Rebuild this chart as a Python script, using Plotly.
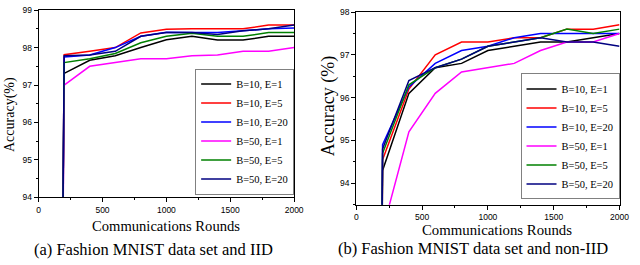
import plotly.graph_objects as go

rounds = [0, 200, 400, 600, 800, 1000, 1200, 1400, 1600, 1800, 2000]
names = ["B=10, E=1", "B=10, E=5", "B=10, E=20", "B=50, E=1", "B=50, E=5", "B=50, E=20"]
colors = ["#000000", "#ff0000", "#0000ff", "#ff00ff", "#008000", "#000080"]

# (a) IID
iid_b10_e1 = [10, 97.31, 97.66, 97.78, 98.0, 98.21, 98.3, 98.2, 98.2, 98.3, 98.3]
iid_b10_e5 = [10, 97.81, 97.9, 98.0, 98.39, 98.49, 98.5, 98.5, 98.5, 98.6, 98.6]
iid_b10_e20 = [10, 97.75, 97.8, 98.0, 98.3, 98.41, 98.4, 98.4, 98.45, 98.5, 98.52]
iid_b50_e1 = [10, 97.0, 97.5, 97.6, 97.7, 97.7, 97.78, 97.8, 97.9, 97.9, 98.0]
iid_b50_e5 = [10, 97.6, 97.7, 97.84, 98.13, 98.3, 98.38, 98.3, 98.3, 98.4, 98.4]
iid_b50_e20 = [10, 97.78, 97.8, 97.9, 98.3, 98.4, 98.4, 98.35, 98.45, 98.5, 98.6]

# (b) non-IID
non_b10_e1 = [10, 94.3, 96.1, 96.7, 96.8, 97.1, 97.2, 97.3, 97.3, 97.4, 97.5]
non_b10_e5 = [10, 94.55, 96.2, 97.0, 97.3, 97.3, 97.4, 97.4, 97.6, 97.6, 97.7]
non_b10_e20 = [10, 94.9, 96.25, 96.8, 97.1, 97.2, 97.4, 97.5, 97.5, 97.5, 97.5]
non_b50_e1 = [10, 92.9, 95.2, 96.1, 96.6, 96.7, 96.8, 97.1, 97.3, 97.3, 97.5]
non_b50_e5 = [10, 94.7, 96.3, 96.7, 96.9, 97.2, 97.3, 97.4, 97.6, 97.5, 97.6]
non_b50_e20 = [10, 94.8, 96.4, 96.7, 96.9, 97.2, 97.3, 97.4, 97.3, 97.3, 97.2]

iid = [iid_b10_e1, iid_b10_e5, iid_b10_e20, iid_b50_e1, iid_b50_e5, iid_b50_e20]
non = [non_b10_e1, non_b10_e5, non_b10_e20, non_b50_e1, non_b50_e5, non_b50_e20]

fig = go.Figure()
for n, c, ys in zip(names, colors, iid):
    fig.add_trace(go.Scatter(x=rounds, y=ys, mode="lines", name=n,
                             line=dict(color=c, width=1.5),
                             xaxis="x", yaxis="y", legend="legend"))
for n, c, ys in zip(names, colors, non):
    fig.add_trace(go.Scatter(x=rounds, y=ys, mode="lines", name=n,
                             line=dict(color=c, width=1.5),
                             xaxis="x2", yaxis="y2", legend="legend2"))

tickfont = dict(family="Liberation Sans, Arial", size=8.5, color="black")
axis_common = dict(showline=True, linecolor="black", linewidth=1, mirror=True,
                   ticks="outside", ticklen=4, tickcolor="black", showgrid=False,
                   zeroline=False, tickfont=tickfont)

fig.update_layout(
    width=640, height=265,
    margin=dict(l=0, r=0, t=0, b=0),
    paper_bgcolor="white", plot_bgcolor="white",
    xaxis=dict(domain=[0.0583, 0.4652], range=[0, 2000], dtick=500, anchor="y",
               minor=dict(ticks="outside", ticklen=2, dtick=250, tickcolor="black"),
               **axis_common),
    yaxis=dict(domain=[0.2453, 0.98], range=[94, 99], dtick=1, anchor="x",
               minor=dict(ticks="outside", ticklen=2, dtick=0.5, tickcolor="black"),
               **axis_common),
    xaxis2=dict(domain=[0.5641, 0.9833], range=[0, 2000], dtick=500, anchor="y2",
                minor=dict(ticks="outside", ticklen=2, dtick=250, tickcolor="black"),
                **axis_common),
    yaxis2=dict(domain=[0.2170, 0.9725], range=[93.5, 98], tick0=94, dtick=1, anchor="x2",
                minor=dict(ticks="outside", ticklen=2, tick0=94, dtick=0.5, tickcolor="black"),
                **axis_common),
    legend=dict(x=0.4652, xanchor="right", y=0.2566, yanchor="bottom",
                bgcolor="white", bordercolor="#808080", borderwidth=1,
                font=dict(family="Liberation Serif, Times New Roman", size=10.5, color="black"),
                itemwidth=30),
    legend2=dict(x=0.9833, xanchor="right", y=0.2377, yanchor="bottom",
                 bgcolor="white", bordercolor="#808080", borderwidth=1,
                 font=dict(family="Liberation Serif, Times New Roman", size=10.5, color="black"),
                 itemwidth=30),
    showlegend=True,
)

serif = "Liberation Serif, Times New Roman"
annots = [
    dict(text="Accuracy(%)", x=0.0117, y=0.570, textangle=-90, size=14),
    dict(text="Accuracy (%)", x=0.5203, y=0.602, textangle=-90, size=18),
    dict(text="Communications Rounds", x=0.2605, y=0.132, textangle=0, size=14.6),
    dict(text="Communications Rounds", x=0.789, y=0.117, textangle=0, size=14.8),
    dict(text="(a) Fashion MNIST data set and IID", x=0.2417, y=0.040, textangle=0, size=16.5),
    dict(text="(b) Fashion MNIST data set and non-IID", x=0.75, y=0.045, textangle=0, size=16.5),
]
for a in annots:
    fig.add_annotation(text=a["text"], x=a["x"], y=a["y"], xref="paper", yref="paper",
                       xanchor="center", yanchor="middle", showarrow=False,
                       textangle=a["textangle"],
                       font=dict(family=serif, size=a["size"], color="black"))

fig.write_html("out.html", config={"displayModeBar": False},
               post_script="document.body.style.margin='0';document.body.style.overflow='hidden';")
